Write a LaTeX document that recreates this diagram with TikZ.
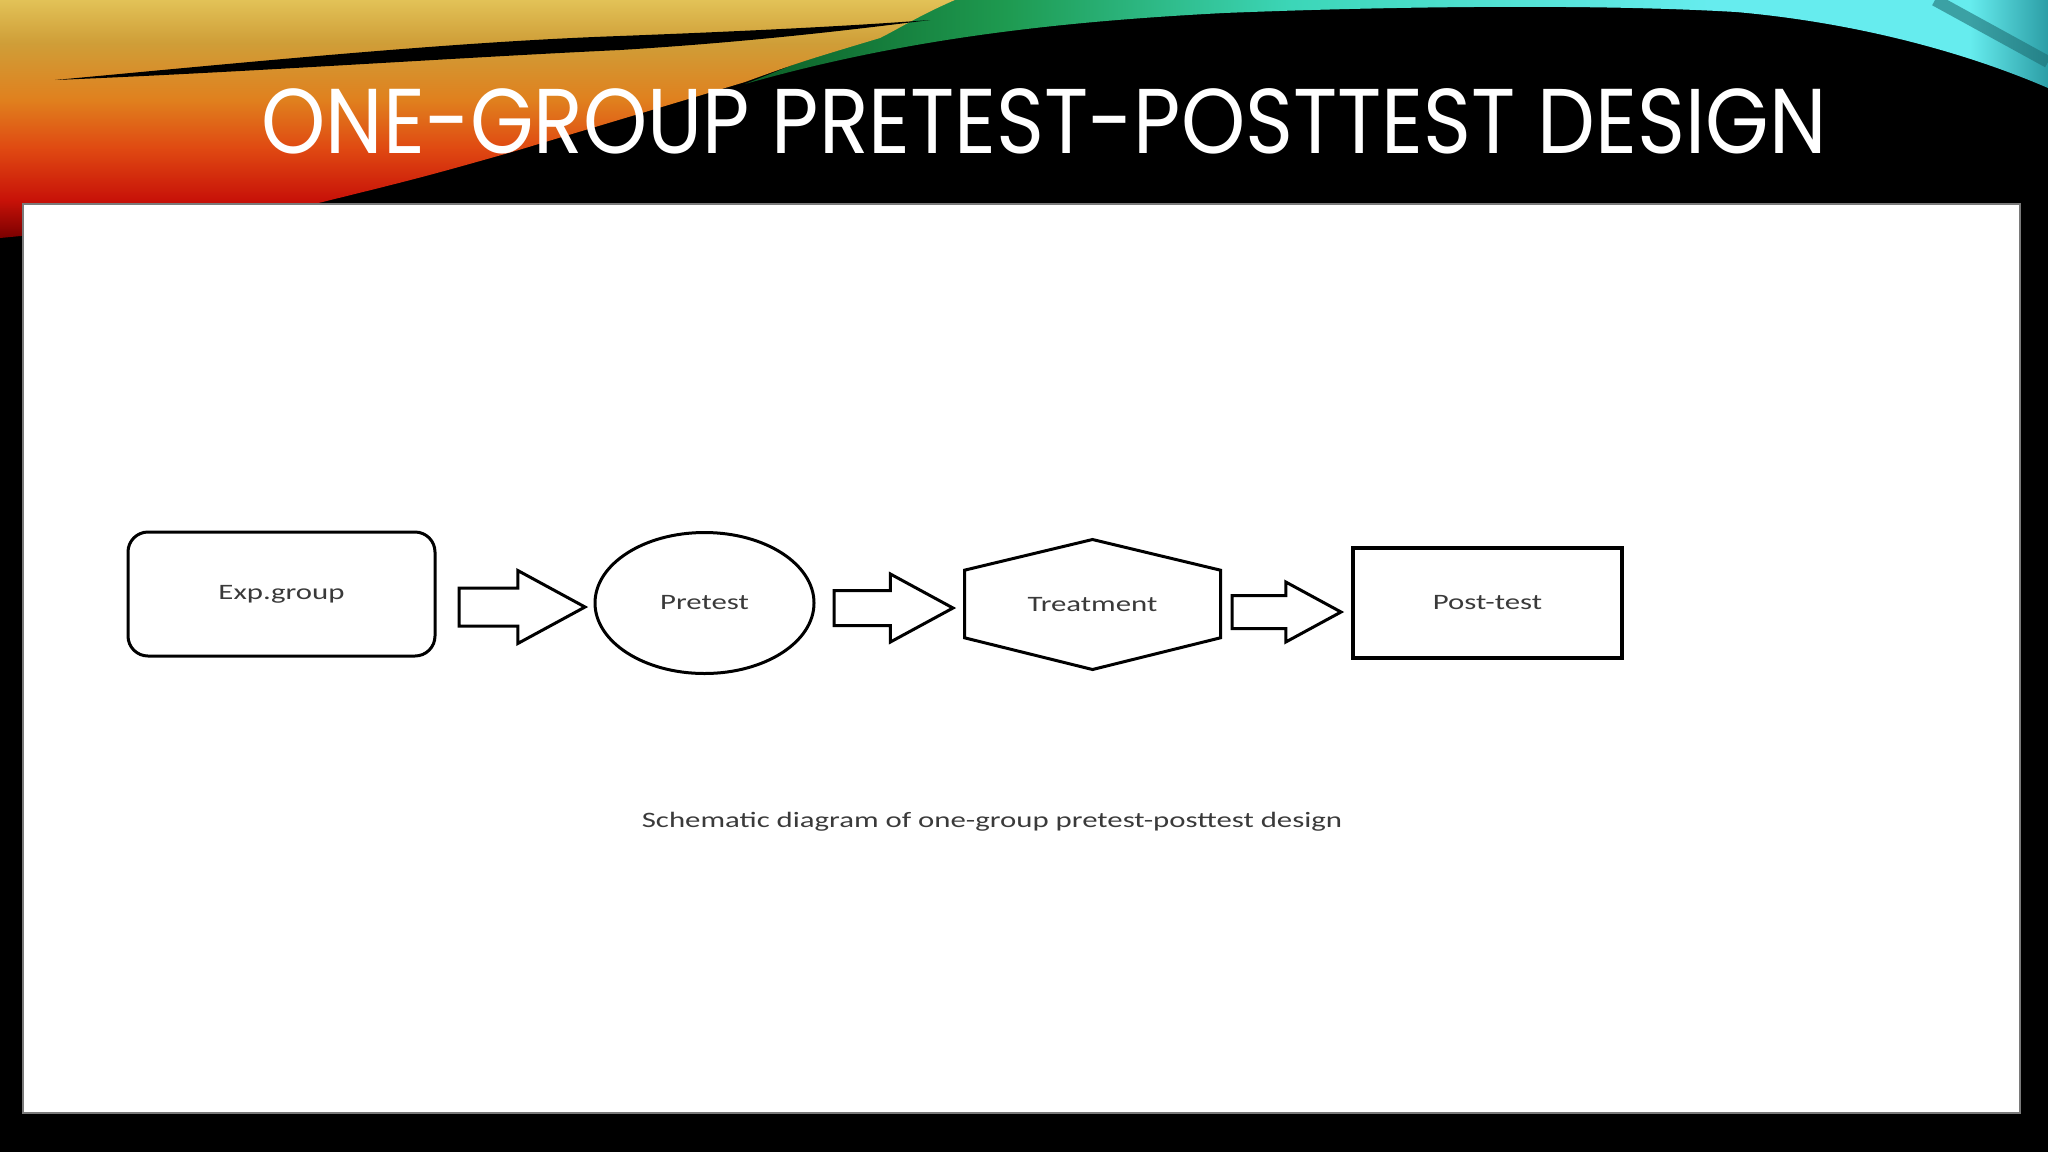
\documentclass[tikz,border=0pt]{standalone}
\usepackage{fontspec}
\setmainfont{Carlito}
\newfontfamily\titlefont{Poppins}
\usepackage{graphicx}
\usetikzlibrary{shapes.geometric,shapes.arrows,calc,positioning}

\definecolor{txtgrey}{HTML}{3A3A3A}
\definecolor{edgegrey}{HTML}{7A7A7A}
\definecolor{wTop}{HTML}{E2C257}
\definecolor{wA}{HTML}{CF9E38}
\definecolor{wB}{HTML}{E0801E}
\definecolor{wC}{HTML}{E04A12}
\definecolor{wD}{HTML}{C81208}
\definecolor{wE}{HTML}{7A0000}
\definecolor{cA}{HTML}{0C5E26}
\definecolor{cB}{HTML}{1E9A50}
\definecolor{cC}{HTML}{3CD6B8}
\definecolor{cD}{HTML}{66ECEE}
\definecolor{cE}{HTML}{2C9EA6}

\pgfdeclareverticalshading{warmband}{100bp}{color(0bp)=(wE); color(25bp)=(wE);
  color(33bp)=(wD); color(44bp)=(wC); color(54bp)=(wB); color(66bp)=(wA);
  color(75bp)=(wTop); color(100bp)=(wTop)}
\pgfdeclarehorizontalshading{coolband}{100bp}{color(0bp)=(cA); color(25bp)=(cA);
  color(35bp)=(cB); color(46bp)=(cC); color(62bp)=(cD); color(72bp)=(cD);
  color(75bp)=(cE); color(100bp)=(cE)}

\newcommand{\wide}[1]{\scalebox{1.4}[1]{#1}}

\begin{document}
\begin{tikzpicture}[x=0.5pt,y=-0.5pt,
  shapebox/.style={draw=black,line width=1.5pt,inner sep=0pt,
    font=\fontsize{11}{13}\selectfont,text=txtgrey},
  fatarrow/.style={single arrow,draw=black,line width=1.5pt,inner xsep=0pt,
    single arrow tip angle=57}]
\useasboundingbox (0,0) rectangle (2048,1152);
\fill[black] (0,0) rectangle (2048,1152);
% swooshes at the top
\shade[shading=coolband] (745,84) .. controls (900,40) and (1050,22) .. (1224,13)
  .. controls (1400,6) and (1600,4) .. (1736,12)
  .. controls (1850,22) and (1960,50) .. (2048,88) -- (2048,0) -- (955,0) -- cycle;
\draw[cE!70!black,line width=6pt,opacity=.6] (1935,0) -- (2048,62);
\shade[shading=warmband] (0,0) -- (955,0) .. controls (920,15) and (900,28) .. (880,38)
  .. controls (800,62) .. (745,82) -- (512,152) .. controls (420,178) .. (290,210)
  -- (0,238) -- cycle;
\fill[black] (55,80) .. controls (250,62) and (450,42) .. (620,36)
  .. controls (750,31) and (850,26) .. (930,20)
  .. controls (850,30) and (750,42) .. (620,50)
  .. controls (450,58) and (250,72) .. (55,80);
\node[text=white,font=\titlefont\fontsize{46}{50}\selectfont,anchor=base,inner sep=0pt]
  (title) at (1044,153) {\scalebox{0.888}[1]{ONE-GROUP PRETEST-POSTTEST DESIGN}};
% white panel
\fill[white] (23,204) rectangle (2020,1113);
\draw[edgegrey,line width=0.6pt] (23,204) rectangle (2020,1113);
% diagram
\node[shapebox,rounded corners=10pt,minimum width=153.5pt,minimum height=62pt]
  (expgrp) at (281.5,594) {\wide{Exp.group}};
\node[shapebox,ellipse,minimum width=109.5pt,minimum height=70.5pt]
  (pretest) at (704.5,603) {\wide{Pretest}};
\node[shapebox,draw=none,minimum width=126.5pt,minimum height=63.5pt]
  (treat) at (1092.5,604.5) {\wide{Treatment}};
\draw[line width=1.5pt,line join=miter] (treat.north)
  -- ($(treat.north east)!.236!(treat.south east)$)
  -- ($(treat.north east)!.756!(treat.south east)$) -- (treat.south)
  -- ($(treat.north west)!.756!(treat.south west)$)
  -- ($(treat.north west)!.236!(treat.south west)$) -- cycle;
\node[shapebox,line width=2pt,minimum width=134.5pt,minimum height=55pt]
  (posttest) at (1487.5,603) {\wide{Post-test}};
\node[fatarrow,minimum height=63pt,inner ysep=8.75pt,single arrow head extend=8.75pt,
  right=10.5pt of expgrp,yshift=-6.5pt] (a1) {};
\node[fatarrow,minimum height=59.5pt,inner ysep=8pt,single arrow head extend=8.25pt,
  right=8.5pt of pretest,yshift=-2.5pt] (a2) {};
\node[fatarrow,minimum height=54.5pt,inner ysep=7.5pt,single arrow head extend=6.75pt,
  right=5pt of treat,yshift=-3.75pt] (a3) {};
\node[font=\fontsize{11}{13}\selectfont,text=txtgrey] (caption) at (992,822)
  {\wide{Schematic diagram of one-group pretest-posttest design}};
\end{tikzpicture}
\end{document}
